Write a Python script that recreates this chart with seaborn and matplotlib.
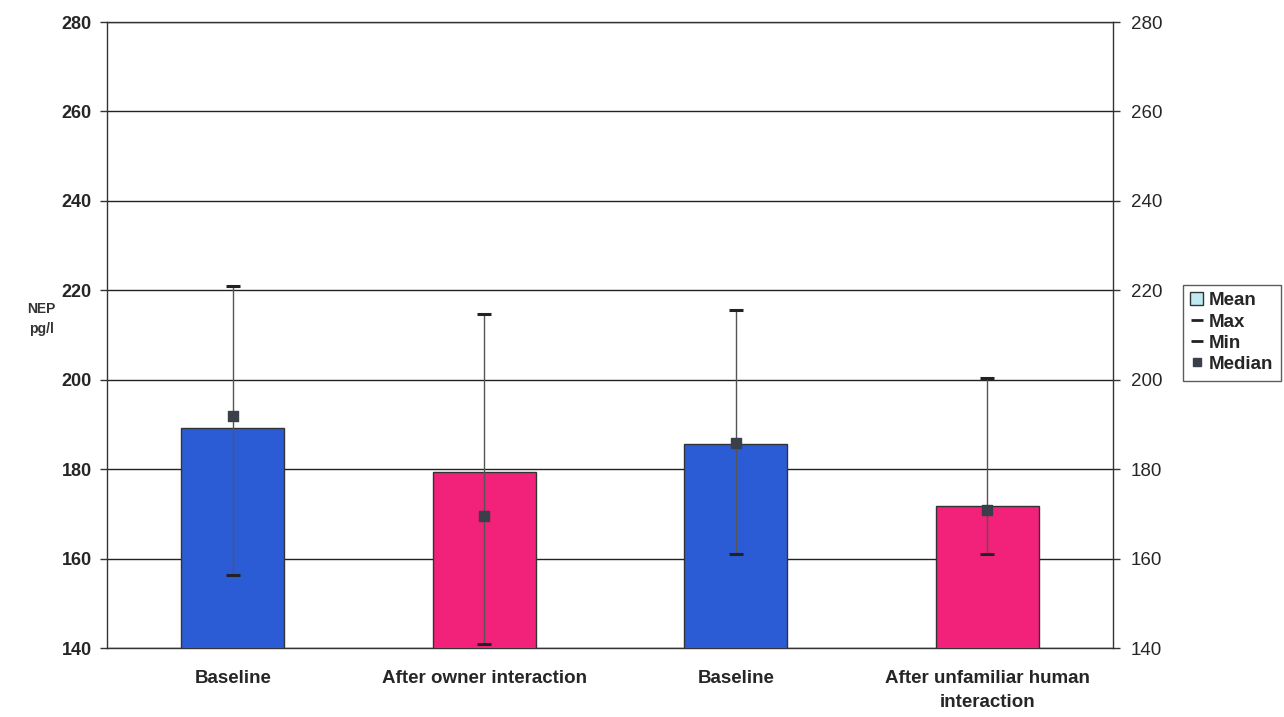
import pandas as pd
import matplotlib
matplotlib.use("Agg")
import matplotlib.pyplot as plt
from matplotlib.lines import Line2D
from matplotlib.patches import Patch
import seaborn as sns

# values (NEP, pg/l)
groups = ["Baseline", "After owner interaction", "Baseline", "After unfamiliar human\ninteraction"]
mean_vals = [189.2, 179.4, 185.6, 171.8]
max_vals = [221.0, 214.7, 215.5, 200.3]
min_vals = [156.3, 141.0, 161.0, 161.0]
median_vals = [192.0, 169.5, 185.8, 170.8]
bar_colors = ["#2b5cd6", "#f2217a", "#2b5cd6", "#f2217a"]

y_ticks = [140, 160, 180, 200, 220, 240, 260, 280]

def main():
    sns.set_theme(style="white")
    plt.rcParams["font.family"] = ["Liberation Sans", "DejaVu Sans"]

    df = pd.DataFrame({
        "key": [f"g{i}" for i in range(len(groups))],
        "mean": mean_vals,
    })

    fig = plt.figure(figsize=(12.84, 7.17), dpi=100)
    ax = fig.add_axes([0.0833, 0.0962, 0.7835, 0.8731])

    sns.barplot(data=df, x="key", y="mean", hue="key", palette=bar_colors,
                saturation=1, legend=False, width=0.41, edgecolor="#333333",
                linewidth=1.0, ax=ax, zorder=3)

    xs = list(range(len(groups)))
    # min-max whiskers
    ax.vlines(xs, min_vals, max_vals, color="#555555", linewidth=1.0, zorder=4)
    ax.scatter(xs, max_vals, marker="_", s=90, color="#222222", linewidths=2.2, zorder=5)
    ax.scatter(xs, min_vals, marker="_", s=90, color="#222222", linewidths=2.2, zorder=5)
    ax.scatter(xs, median_vals, marker="s", s=55, color="#3a3f4a", zorder=6)

    ax.set_ylim(140, 280)
    ax.set_xlim(-0.5, 3.5)
    ax.set_yticks(y_ticks)
    ax.set_yticklabels([str(t) for t in y_ticks], fontsize=13, fontweight="bold")
    ax.yaxis.grid(True, color="#222222", linewidth=1.0, zorder=0)
    ax.set_axisbelow(True)

    ax.set_xticks(xs)
    ax.set_xticklabels(groups, fontsize=13.5, fontweight="bold", linespacing=1.5)
    ax.tick_params(axis="x", which="major", length=0, pad=16)
    ax.set_xticks([0.5, 1.5, 2.5], minor=True)
    ax.tick_params(axis="x", which="minor", length=6, width=1, color="#333333", direction="out")
    ax.tick_params(axis="y", which="major", length=5, width=1, color="#333333", direction="out",
                   left=True, pad=6)
    ax.set_xlabel("")
    ax.set_ylabel("")

    for side in ["left", "right", "bottom", "top"]:
        ax.spines[side].set_color("#333333")
        ax.spines[side].set_linewidth(1.0)

    # right-hand duplicate axis
    ax2 = ax.twinx()
    ax2.set_ylim(140, 280)
    ax2.set_yticks(y_ticks)
    ax2.set_yticklabels([str(t) for t in y_ticks], fontsize=13.5)
    ax2.tick_params(axis="y", length=5, width=1, color="#333333", direction="out", right=True, pad=8)
    ax2.grid(False)
    for side in ["left", "right", "bottom", "top"]:
        ax2.spines[side].set_visible(False)

    fig.text(0.032, 0.555, "NEP\npg/l", fontsize=10, fontweight="bold", ha="center",
             va="center", color="#333333", linespacing=1.6)

    handles = [
        Patch(facecolor="#bfeaf2", edgecolor="#333333", label="Mean"),
        Line2D([], [], color="#222222", linestyle="none", marker="_", markersize=8, markeredgewidth=2, label="Max"),
        Line2D([], [], color="#222222", linestyle="none", marker="_", markersize=8, markeredgewidth=2, label="Min"),
        Line2D([], [], color="#3a3f4a", linestyle="none", marker="s", markersize=6, label="Median"),
    ]
    leg = fig.legend(handles=handles, loc="upper left", bbox_to_anchor=(0.921, 0.603),
                     frameon=True, fancybox=False, edgecolor="#333333",
                     prop={"weight": "bold", "size": 13.5}, handlelength=0.7,
                     handletextpad=0.3, labelspacing=0.22, borderpad=0.4,
                     borderaxespad=0)
    leg.get_frame().set_linewidth(1.0)

    plt.savefig("out.png", dpi=100)
    plt.close()

if __name__ == "__main__":
    main()
